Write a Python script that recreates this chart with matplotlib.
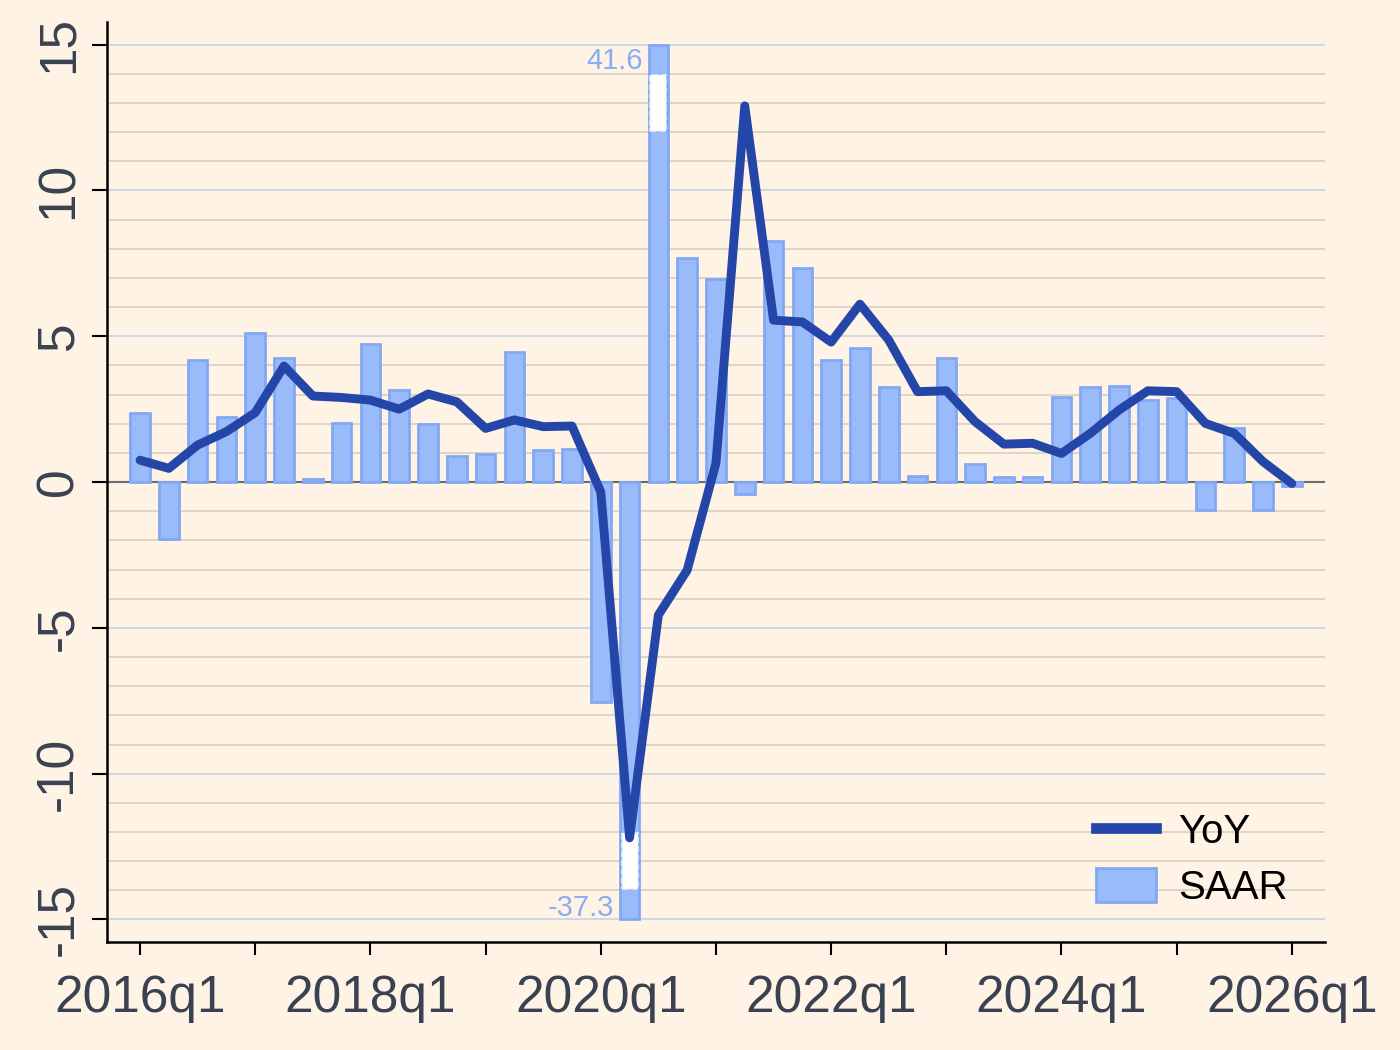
import numpy as np
import matplotlib
matplotlib.use("Agg")
import matplotlib.pyplot as plt
from matplotlib.ticker import MultipleLocator
from matplotlib.patches import Patch
from matplotlib.lines import Line2D

plt.rcParams["font.family"] = ["Liberation Sans", "DejaVu Sans"]

# quarterly data, 2016q1 .. 2026q1
quarters = [f"{y}q{q}" for y in range(2016, 2027) for q in range(1, 5)][:41]
saar = [2.37, -1.96, 4.20, 2.24, 5.12, 4.26, 0.10, 2.02, 4.72, 3.14,
        2.00, 0.91, 0.95, 4.45, 1.10, 1.12, -7.54, -37.3, 41.6, 7.68,
        6.96, -0.41, 8.26, 7.34, 4.18, 4.60, 3.25, 0.21, 4.26, 0.61,
        0.18, 0.18, 2.91, 3.27, 3.29, 2.83, 2.88, -0.96, 1.87, -0.96,
        -0.14]
yoy = [0.75, 0.47, 1.27, 1.73, 2.38, 3.98, 2.95, 2.90, 2.81, 2.50,
       3.02, 2.75, 1.84, 2.13, 1.90, 1.92, -0.34, -12.2, -4.56, -3.02,
       0.65, 12.9, 5.55, 5.49, 4.80, 6.10, 4.87, 3.10, 3.13, 2.07,
       1.30, 1.33, 0.98, 1.67, 2.47, 3.13, 3.10, 2.01, 1.67, 0.70,
       -0.05]
CAP = 15  # bars beyond this are cut and labelled

BG = "#fef3e5"
BAR = "#99bbf9"
BAR_EDGE = "#82a8f5"
LINE = "#2446a8"
TXT = "#3a4150"

x = np.arange(len(quarters))
saar = np.array(saar)
shown = np.clip(saar, -CAP, CAP)

fig = plt.figure(figsize=(14, 10.5), dpi=100, facecolor=BG)
ax = fig.add_axes([0.0764, 0.1029, 0.87, 0.876], facecolor=BG)

# grid: every unit, major every 5
for v in range(-15, 16):
    c = "#c9d6e6" if v % 5 == 0 else "#ddd1c3"
    ax.axhline(v, color=c, lw=1.3, zorder=0)
ax.axhline(0, color="#6b6b6b", lw=1.5, zorder=1)

ax.bar(x, shown, width=0.68, color=BAR, edgecolor=BAR_EDGE, lw=2, zorder=2)

# break markers on the cut bars
for i in np.where(np.abs(saar) > CAP)[0]:
    if saar[i] > 0:
        bottom, ty = 12.05, 14.45
    else:
        bottom, ty = -13.95, -14.6
    ax.bar(i, 1.9, bottom=bottom, width=0.56, color="white",
           edgecolor="#e8eefb", lw=1.2, linestyle="--", zorder=3)
    ax.text(i - 0.55, ty, f"{saar[i]:.1f}", ha="right", va="center",
            fontsize=21, color="#8cacf2", zorder=4)

ax.plot(x, yoy, color=LINE, lw=6.4, solid_joinstyle="round",
        solid_capstyle="round", zorder=5)

ax.set_xlim(-1.15, 41.15)
ax.set_ylim(-15.77, 15.77)

ax.set_xticks(x[::8])
ax.set_xticklabels([quarters[i] for i in x[::8]])
ax.xaxis.set_minor_locator(MultipleLocator(4))
ax.set_yticks([-15, -10, -5, 0, 5, 10, 15])
ax.set_yticklabels(["-15", "-10", "-5", "0", "5", "10", "15"],
                   rotation=90, va="center")

ax.tick_params(axis="x", which="both", length=9, width=1.5, direction="out",
               labelsize=37, labelcolor=TXT, pad=14)
ax.tick_params(axis="y", length=11, width=1.5, direction="out",
               labelsize=37, labelcolor=TXT, pad=6)

for side in ("top", "right"):
    ax.spines[side].set_visible(False)
for side in ("left", "bottom"):
    ax.spines[side].set_linewidth(1.8)

handles = [Line2D([0], [0], color=LINE, lw=7.7),
           Patch(facecolor=BAR, edgecolor=BAR_EDGE, lw=2)]
ax.legend(handles, ["YoY", "SAAR"], loc="lower left",
          bbox_to_anchor=(0.812, 0.038), frameon=False, fontsize=29,
          borderpad=0, borderaxespad=0, handlelength=1.5,
          handleheight=0.9, handletextpad=0.55, labelspacing=0.42)

fig.savefig("out.png", dpi=100, facecolor=BG)
